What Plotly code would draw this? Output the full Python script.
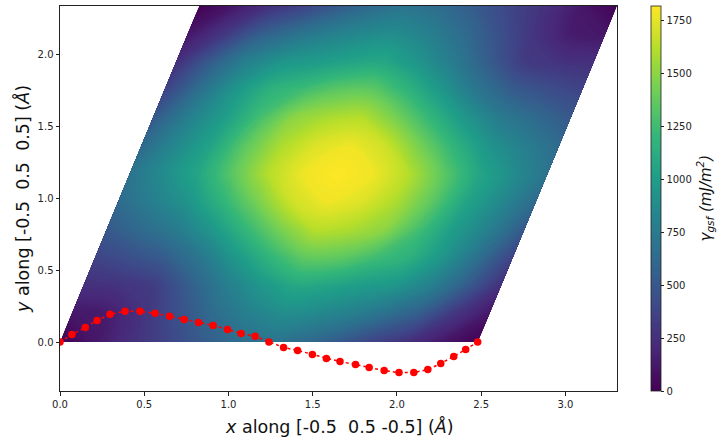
import plotly.graph_objects as go

# lattice vectors of the plotted cell (Angstrom)
cell_x = 2.48
shear_x = 0.826
cell_y = 2.337

# fractional positions along the two cell edges
frac = [i / 12 for i in range(13)]

# stacking fault energy read at the grid of cell fractions (mJ/m^2)
gsf = [
    [0, 115, 250, 370, 512, 630, 695, 630, 512, 370, 250, 115, 0],
    [115, 140, 270, 442, 625, 782, 882, 855, 785, 670, 532, 290, 115],
    [250, 270, 325, 532, 750, 937, 1077, 1057, 995, 945, 790, 532, 250],
    [370, 442, 532, 710, 952, 1180, 1360, 1360, 1257, 1160, 945, 670, 370],
    [512, 625, 750, 952, 1200, 1440, 1620, 1590, 1500, 1257, 995, 785, 512],
    [630, 782, 937, 1180, 1440, 1690, 1780, 1730, 1590, 1360, 1057, 855, 630],
    [695, 882, 1077, 1360, 1620, 1780, 1820, 1780, 1620, 1360, 1077, 882, 695],
    [630, 855, 1057, 1360, 1590, 1730, 1780, 1690, 1440, 1180, 937, 782, 630],
    [512, 785, 995, 1257, 1500, 1590, 1620, 1440, 1200, 952, 750, 625, 512],
    [370, 670, 945, 1160, 1257, 1360, 1360, 1180, 952, 710, 532, 442, 370],
    [250, 532, 790, 945, 995, 1057, 1077, 937, 750, 532, 325, 270, 250],
    [115, 290, 532, 670, 785, 855, 882, 782, 625, 442, 270, 140, 115],
    [0, 115, 250, 370, 512, 630, 695, 630, 512, 370, 250, 115, 0],
]

# red path
path_x = [0, .071, .15, .22, .297, .386, .475, .564, .65, .737, .822, .909, .994, 1.075, 1.158, 1.24,
          1.327, 1.41, 1.498, 1.581, 1.662, 1.754, 1.835, 1.924, 2.012, 2.1, 2.183, 2.26, 2.337, 2.408, 2.479]
path_y = [0, .053, .102, .151, .193, .214, .214, .2, .179, .158, .137, .116, .088, .06, .04, 0,
          -.037, -.058, -.086, -.114, -.135, -.156, -.177, -.198, -.212, -.212, -.191, -.149, -.1, -.051, 0]

cbar_ticks = [0, 250, 500, 750, 1000, 1250, 1500, 1750]
x_ticks = [0, .5, 1, 1.5, 2, 2.5, 3]
y_ticks = [0, .5, 1, 1.5, 2]

FONT = "DejaVu Sans"
INK = "#222222"

# gsf[j][i]: j indexes the slanted edge, i the horizontal edge
grid_x = [[a * cell_x + b * shear_x for a in frac] for b in frac]
grid_y = [[b * cell_y for a in frac] for b in frac]

fig = go.Figure()
hidden = dict(showgrid=False, showline=False, showticklabels="none",
              startline=False, endline=False, minorgridcount=0)
fig.add_trace(go.Carpet(a=frac, b=frac, x=grid_x, y=grid_y, carpet="cell",
                        aaxis=hidden, baxis=hidden))
fig.add_trace(go.Contourcarpet(
    a=frac, b=frac, z=gsf, carpet="cell",
    colorscale="Viridis", zmin=0, zmax=1820, autocontour=False,
    contours=dict(start=0, end=1820, size=10, coloring="fill", showlines=False),
    line=dict(width=0),
    colorbar=dict(
        x=1.0610, xanchor="left", xpad=0, y=0.5, yanchor="middle", ypad=0,
        len=1, lenmode="fraction", thickness=10, thicknessmode="pixels",
        tickvals=cbar_ticks, ticks="outside", ticklen=3.5, tickwidth=0.8, tickcolor=INK,
        outlinewidth=0.8, outlinecolor=INK, tickfont=dict(family=FONT, size=10, color=INK),
    ),
))
fig.add_trace(go.Scatter(
    x=path_x, y=path_y, mode="lines+markers",
    line=dict(color="#ff0000", width=1.5, dash="dot"),
    marker=dict(color="#ff0000", size=7.5),
    showlegend=False,
))

axis = dict(showgrid=False, zeroline=False, showline=True, mirror=True, linecolor=INK, linewidth=1,
            ticks="outside", ticklen=3.5, tickwidth=0.8, tickcolor=INK,
            tickfont=dict(family=FONT, size=10, color=INK), tickformat=".1f")
fig.update_layout(
    width=726, height=445, autosize=False,
    margin=dict(l=60, r=109, t=6, b=54),
    paper_bgcolor="white", plot_bgcolor="white", showlegend=False,
    xaxis=dict(axis, range=[0, 3.306], tickvals=x_ticks),
    yaxis=dict(axis, range=[-0.34, 2.337], tickvals=y_ticks),
    annotations=[
        dict(text="<i>x</i> along [-0.5  0.5 -0.5] (<i>Å</i>)", xref="paper", yref="paper",
             x=0.5009, y=-0.0935, xanchor="center", yanchor="middle", showarrow=False,
             font=dict(family=FONT, size=17.5, color="#111111")),
        dict(text="<i>y</i> along [-0.5  0.5  0.5] (<i>Å</i>)", xref="paper", yref="paper",
             x=-0.0675, y=0.5, xanchor="center", yanchor="middle", textangle=-90, showarrow=False,
             font=dict(family=FONT, size=17.5, color="#111111")),
        dict(text="<i>γ<sub>gsf</sub> (mJ/m<sup>2</sup>)</i>", xref="paper", yref="paper",
             x=1.158, y=0.5, xanchor="center", yanchor="middle", textangle=-90, showarrow=False,
             font=dict(family=FONT, size=15, color="#111111")),
    ],
)
fig.write_html("out.html", config=dict(displayModeBar=False),
               post_script="document.body.style.margin='0';document.body.style.overflow='hidden';")
